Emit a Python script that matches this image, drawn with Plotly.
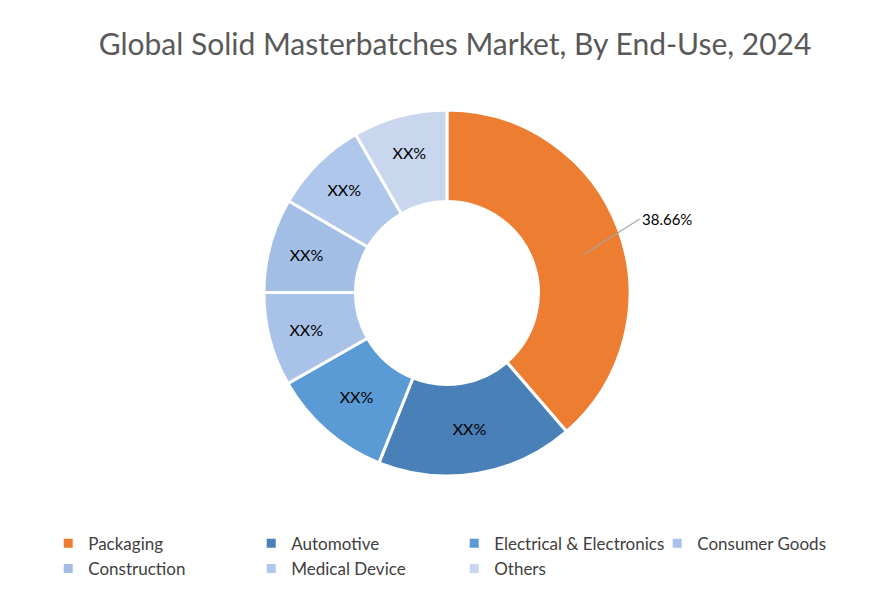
import plotly.graph_objects as go

categories = ["Packaging", "Automotive", "Electrical & Electronics", "Consumer Goods",
              "Construction", "Medical Device", "Others"]
values = [38.66, 17.4, 10.7, 8.31, 8.31, 8.31, 8.31]
slice_text = ["", "XX%", "XX%", "XX%", "XX%", "XX%", "XX%"]
colors = ["#ED7D31", "#4A80B8", "#5B9BD5", "#A9C3E8", "#A3BEE5", "#AFC7EA", "#C8D6EE"]

FONT = "Lato, Open Sans, sans-serif"
fig = go.Figure(go.Pie(
    labels=categories, values=values, text=slice_text, texttemplate="%{text}",
    textposition="inside", insidetextorientation="horizontal",
    sort=False, direction="clockwise", rotation=0, hole=0.5,
    marker=dict(colors=colors, line=dict(color="white", width=3)),
    textfont=dict(size=16, color="black", family=FONT),
    domain=dict(x=[0, 0.982], y=[0.22, 0.83]), hoverinfo="label+percent",
))
fig.add_annotation(x=0.645, y=0.59, xref="paper", yref="paper", text="38.66%",
                   showarrow=True, ax=55, ay=-35, arrowhead=0, arrowcolor="#A6A6A6",
                   arrowwidth=1.2, xanchor="left",
                   font=dict(size=15, color="black", family=FONT))
fig.update_layout(
    width=894, height=600, paper_bgcolor="white", plot_bgcolor="white",
    margin=dict(l=0, r=0, t=0, b=0),
    title=dict(text="Global Solid Masterbatches Market, By End-Use, 2024", x=0.5, xanchor="center",
               y=0.94, yanchor="middle",
               font=dict(size=30, color="#595959", family=FONT)),
    legend=dict(orientation="h", x=0.045, y=0.137, xanchor="left", yanchor="top",
                entrywidth=158, entrywidthmode="pixels", tracegroupgap=0, itemwidth=30,
                font=dict(size=17, color="#404040", family=FONT)),
)
fig.write_html("out.html")
